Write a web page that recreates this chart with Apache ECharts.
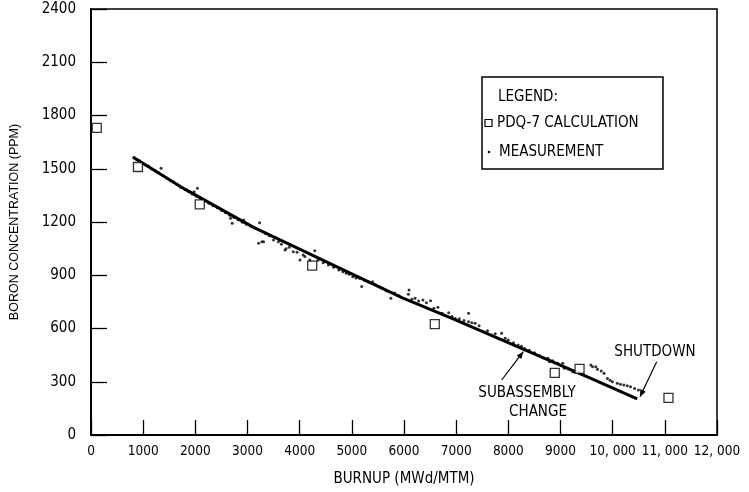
<!DOCTYPE html>
<html>
<head>
<meta charset="utf-8">
<script src="https://cdn.jsdelivr.net/npm/echarts@6/dist/echarts.min.js"></script>
<style>html,body{margin:0;padding:0;background:#fff}#c{width:749px;height:492px}</style>
</head>
<body>
<div id="c"></div>
<script>
// ---- data ----
var xTickLabels = ['0','1000','2000','3000','4000','5000','6000','7000','8000','9000','10, 000','11, 000','12, 000'];
var yTickLabels = ['0','300','600','900','1200','1500','1800','2100','2400'];
var pdq7 = [[110,1730],[900,1510],[2085,1299],[4240,954],[6590,625],[8890,350],[9365,373],[11070,209]];
var fitLine = [[800,1566],[1800,1385],[3118,1170],[5970,773],[6920,657],[9582,319],[10470,203]];
var measurement = [
[830,1562],[880,1552],[930,1545],[980,1532],[1040,1522],[1100,1515],[1160,1500],[1230,1490],[1300,1478],[1344,1503],
[1380,1462],[1450,1448],[1520,1432],[1580,1425],[1650,1410],[1720,1395],[1800,1383],[1870,1372],[1940,1358],[1977,1371],
[2040,1390],[2020,1345],[2100,1332],[2180,1320],[2260,1305],[2340,1292],[2420,1280],[2500,1266],[2580,1252],[2675,1221],
[2706,1193],[2660,1238],[2740,1226],[2820,1213],[2928,1211],[2900,1198],[2980,1188],[3060,1178],[3140,1166],[3213,1080],
[3232,1196],[3276,1089],[3308,1089],[3340,1136],[3420,1122],[3498,1099],[3593,1089],[3650,1075],[3720,1042],[3739,1050],
[3800,1058],[3878,1033],[3950,1030],[4005,986],[4068,1014],[4100,1005],[4195,986],[4290,1038],[4350,985],[4450,970],
[4550,958],[4650,945],[4750,930],[4829,920],[4892,911],[4950,905],[5019,892],[5080,885],[5146,883],[5190,836],
[5250,870],[5320,862],[5399,864],[5460,845],[5520,835],[5589,827],[5660,812],[5748,770],[5820,800],[5900,785],
[6084,793],[6097,817],[6150,765],[6211,770],[6280,755],[6363,761],[6430,745],[6508,757],[6572,714],[6650,720],
[6730,686],[6857,689],[6920,668],[6983,657],[7060,655],[7150,645],[7237,686],[7237,638],[7300,632],[7363,629],
[7440,615],[7523,582],[7600,588],[7681,563],[7750,570],[7871,573],[7940,545],[7998,535],[8100,520],[8188,507],
[8250,500],[8314,488],[8400,478],[8504,464],[8600,448],[8694,432],[8758,432],[8789,413],[8850,418],[8948,404],
[9044,404],[9074,376],[9150,372],[9234,357],[9264,357],[9582,394],[9614,385],[9677,385],[9709,370],[9780,360],
[9835,348],[9899,319],[9950,308],[9994,300],[10089,291],[10150,286],[10215,282],[10280,277],[10342,272],[10420,262],[10494,254]
];

// ---- chart ----
var NARROW = "'Liberation Sans Narrow','DejaVu Sans Condensed',sans-serif";
var chart = echarts.init(document.getElementById('c'), null, {renderer:'canvas'});

function arrow(x1,y1,x2,y2){
  var dx=x2-x1, dy=y2-y1, L=Math.sqrt(dx*dx+dy*dy), ux=dx/L, uy=dy/L;
  var bx=x2-7*ux, by=y2-7*uy, px=-uy*3, py=ux*3;
  return [
    {type:'line', shape:{x1:x1,y1:y1,x2:x2,y2:y2}, style:{stroke:'#000', lineWidth:1.2}},
    {type:'polygon', shape:{points:[[x2,y2],[bx+px,by+py],[bx-px,by-py]]}, style:{fill:'#000'}}
  ];
}
var txt = function(x,y,s,align,size){
  return {type:'text', x:x, y:y, style:{text:s, fill:'#000', font: (size||15)+'px '+NARROW, textAlign:align||'left', textVerticalAlign:'middle'}};
};

var graphics = [
  {type:'rect', shape:{x:482,y:77,width:181,height:92}, style:{fill:'#fff', stroke:'#000', lineWidth:1.5}},
  txt(498,97,'LEGEND:'),
  {type:'rect', shape:{x:485,y:119.5,width:7,height:7}, style:{fill:'#fff', stroke:'#000', lineWidth:1.2}},
  txt(497,123,'PDQ-7 CALCULATION'),
  {type:'circle', shape:{cx:489,cy:152,r:1.3}, style:{fill:'#000'}},
  txt(499,152,'MEASUREMENT'),
  txt(655,352,'SHUTDOWN','center'),
  txt(527,393,'SUBASSEMBLY','center'),
  txt(538,412,'CHANGE','center')
].concat(arrow(656.7,361.7,640,396.7)).concat(arrow(501.7,380,523.3,351.7));

var option = {
  animation:false,
  backgroundColor:'#fff',
  grid:{left:86, right:32, top:9, bottom:57, show:true, borderColor:'#000', borderWidth:1.5, containLabel:false},
  xAxis:{
    type:'value', min:0, max:12000, interval:1000,
    name:'BURNUP (MWd/MTM)', nameLocation:'middle', nameGap:37,
    nameTextStyle:{fontFamily:NARROW, fontSize:15, color:'#000'},
    axisLine:{show:true, lineStyle:{color:'#000', width:2}},
    axisTick:{show:true, inside:true, length:15, lineStyle:{color:'#000', width:1.3}},
    axisLabel:{color:'#000', fontFamily:NARROW, fontSize:13.5, margin:9, showMinLabel:true, showMaxLabel:true, hideOverlap:false,
      formatter:function(v){return xTickLabels[Math.round(v/1000)];}},
    splitLine:{show:false}
  },
  yAxis:{
    type:'value', min:0, max:2400, interval:300,
    name:'BORON CONCENTRATION (PPM)', nameLocation:'middle', nameGap:70, nameRotate:90,
    nameTextStyle:{fontFamily:"'Liberation Sans',Arial,sans-serif", fontSize:12.5, color:'#000'},
    axisLine:{show:true, lineStyle:{color:'#000', width:2}},
    axisTick:{show:true, inside:true, length:16, lineStyle:{color:'#000', width:1.3}},
    axisLabel:{color:'#000', fontFamily:NARROW, fontSize:15, margin:15, showMinLabel:true, showMaxLabel:true,
      formatter:function(v){return yTickLabels[Math.round(v/300)];}},
    splitLine:{show:false}
  },
  series:[
    {type:'line', data:fitLine, showSymbol:false, symbol:'none', lineStyle:{color:'#000', width:3}, z:2},
    {type:'scatter', data:measurement, symbol:'circle', symbolSize:3, itemStyle:{color:'#000'}, z:3},
    {type:'scatter', data:pdq7, symbol:'rect', symbolSize:9, itemStyle:{color:'#fff', borderColor:'#000', borderWidth:1.3}, z:4}
  ],
  graphic:graphics
};
chart.setOption(option);
</script>
</body>
</html>
